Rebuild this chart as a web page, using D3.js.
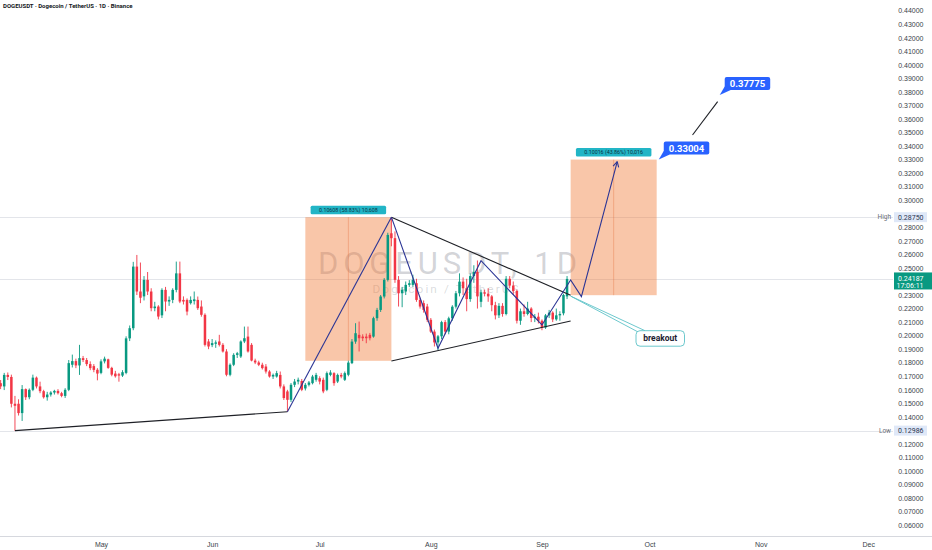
<!DOCTYPE html>
<html lang="en">
<head>
  <meta charset="UTF-8">
  <title>DOGEUSDT 1D</title>
  <script src="https://d3js.org/d3.v7.min.js"></script>
  <style>
    body { margin: 0; background: #fff; }
    svg { display: block; font-family: Roboto, "Noto Sans", sans-serif; }
    .axis text { font-size: 7px; fill: #3b3f4a; }
  </style>
</head>
<body>
  <svg width="932" height="550"></svg>

  <script>
    // daily candles, first one is 2025-04-03
    const firstDay = "2025-04-03";
    const opens = [
      .1649,.1625,.1710,.1695,.1497,.1497,.1428,.1605,.1545,.1600,
      .1690,.1625,.1590,.1545,.1565,.1580,.1592,.1575,.1555,.1600,
      .1785,.1812,.1780,.1834,.1820,.1790,.1775,.1748,.1725,.1810,
      .1825,.1762,.1720,.1715,.1705,.1725,.1980,.2055,.2510,.2326,
      .2290,.2412,.2326,.2203,.2215,.2150,.2338,.2252,.2264,.2338,
      .2460,.2264,.2264,.2240,.2255,.2264,.2215,.2154,.1957,.1930,
      .1940,.1957,.1932,.1883,.1711,.1785,.1858,.1846,.1957,.1993,
      .1932,.1816,.1802,.1785,.1772,.1735,.1698,.1698,.1710,.1625,
      .1588,.1526,.1637,.1661,.1665,.1610,.1637,.1649,.1674,.1686,
      .1674,.1600,.1710,.1723,.1661,.1710,.1674,.1711,.1797,.1956,
      .2006,.1993,.1993,.2006,.1993,.2129,.2190,.2289,.2412,.2756,
      .2720,.2412,.2313,.2326,.2375,.2375,.2387,.2264,.2240,.2215,
      .2117,.2030,.1950,.1995,.2100,.2030,.2128,.2214,.2313,.2399,
      .2350,.2270,.2440,.2470,.2250,.2320,.2310,.2290,.2225,.2150,
      .2220,.2160,.2420,.2370,.2330,.2110,.2180,.2160,.2200,.2130,
      .2140,.2110,.2060,.2150,.2170,.2120,.2150,.2165,.2290
    ];
    const highs = [
      .1672,.1725,.1728,.1712,.1555,.1530,.1635,.1610,.1610,.1712,
      .1698,.1660,.1600,.1585,.1590,.1600,.1605,.1585,.1612,.1820,
      .1860,.1830,.1932,.1850,.1835,.1810,.1790,.1760,.1825,.1845,
      .1830,.1770,.1740,.1725,.1745,.1995,.2075,.2545,.2596,.2540,
      .2440,.2470,.2350,.2250,.2225,.2350,.2360,.2290,.2350,.2547,
      .2547,.2290,.2275,.2290,.2326,.2289,.2260,.2165,.1975,.1975,
      .1965,.2006,.1945,.1900,.1795,.1870,.1880,.1965,.2067,.2067,
      .1945,.1830,.1815,.1800,.1790,.1745,.1720,.1740,.1735,.1640,
      .1600,.1650,.1680,.1690,.1680,.1650,.1665,.1710,.1725,.1700,
      .1690,.1735,.1745,.1730,.1720,.1725,.1735,.1815,.1975,.2092,
      .2104,.2010,.2015,.2020,.2140,.2205,.2300,.2425,.2760,.2875,
      .2770,.2440,.2360,.2400,.2410,.2450,.2420,.2280,.2260,.2235,
      .2130,.2045,.2005,.2110,.2115,.2140,.2225,.2330,.2460,.2430,
      .2420,.2460,.2520,.2555,.2340,.2340,.2350,.2300,.2250,.2240,
      .2240,.2440,.2440,.2400,.2340,.2200,.2230,.2250,.2210,.2160,
      .2170,.2120,.2160,.2190,.2180,.2200,.2180,.2310,.2440
    ];
    const lows = [
      .1605,.1598,.1672,.1470,.1297,.1410,.1370,.1525,.1530,.1590,
      .1610,.1575,.1535,.1520,.1550,.1565,.1565,.1545,.1540,.1590,
      .1765,.1760,.1710,.1805,.1775,.1745,.1730,.1670,.1715,.1795,
      .1755,.1700,.1690,.1660,.1695,.1715,.1960,.2040,.2300,.2240,
      .2260,.2300,.2180,.2180,.2120,.2130,.2180,.2220,.2240,.2320,
      .2240,.2230,.2150,.2230,.2230,.2190,.2140,.1920,.1900,.1915,
      .1910,.1920,.1875,.1700,.1700,.1775,.1835,.1835,.1945,.1875,
      .1810,.1790,.1775,.1750,.1720,.1690,.1680,.1690,.1610,.1525,
      .1438,.1510,.1620,.1640,.1590,.1595,.1625,.1640,.1660,.1640,
      .1575,.1590,.1700,.1630,.1650,.1685,.1665,.1700,.1790,.1940,
      .1883,.1960,.1944,.1965,.1985,.2110,.2175,.2275,.2400,.2660,
      .2390,.2215,.2210,.2300,.2360,.2360,.2250,.2200,.2170,.2100,
      .2020,.1920,.1894,.1975,.2010,.2010,.2110,.2200,.2290,.2300,
      .2180,.2250,.2390,.2200,.2210,.2290,.2250,.2180,.2120,.2130,
      .2140,.2150,.2350,.2300,.2090,.2080,.2140,.2150,.2100,.2100,
      .2090,.2040,.2050,.2130,.2100,.2110,.2110,.2150,.2270
    ];
    const closes = [
      .1625,.1710,.1695,.1497,.1482,.1428,.1605,.1545,.1600,.1690,
      .1625,.1590,.1545,.1565,.1580,.1592,.1575,.1555,.1600,.1797,
      .1812,.1780,.1834,.1820,.1790,.1760,.1747,.1720,.1810,.1830,
      .1762,.1712,.1700,.1705,.1730,.1980,.2055,.2510,.2326,.2280,
      .2412,.2326,.2203,.2215,.2141,.2338,.2252,.2264,.2338,.2460,
      .2252,.2252,.2178,.2264,.2268,.2203,.2154,.1932,.1920,.1945,
      .1950,.1932,.1883,.1711,.1785,.1858,.1870,.1957,.1981,.1883,
      .1816,.1802,.1785,.1760,.1735,.1698,.1710,.1723,.1625,.1539,
      .1526,.1637,.1661,.1674,.1600,.1637,.1654,.1698,.1710,.1661,
      .1588,.1723,.1728,.1649,.1710,.1698,.1723,.1801,.1956,.2018,
      .1981,.1981,.1981,.1981,.2129,.2190,.2289,.2412,.2744,.2720,
      .2412,.2313,.2338,.2375,.2387,.2412,.2264,.2215,.2190,.2117,
      .2030,.1950,.1995,.2100,.2030,.2128,.2214,.2313,.2399,.2350,
      .2270,.2440,.2470,.2290,.2320,.2310,.2290,.2225,.2150,.2220,
      .2160,.2420,.2370,.2330,.2110,.2180,.2160,.2200,.2130,.2140,
      .2110,.2060,.2150,.2170,.2120,.2150,.2160,.2300,.2419
    ];

    const priceTicks = [0.06,0.07,0.08,0.09,0.10,0.11,0.12,0.13,0.14,0.15,0.16,0.17,0.18,0.19,
      0.20,0.21,0.22,0.23,0.24,0.25,0.26,0.27,0.28,0.29,0.30,0.31,0.32,0.33,0.34,0.35,0.36,
      0.37,0.38,0.39,0.40,0.41,0.42,0.43,0.44];
    const monthTicks = ["2025-05-01","2025-06-01","2025-07-01","2025-08-01","2025-09-01",
      "2025-10-01","2025-11-01","2025-12-01"];

    const highPrice = 0.2875, lowPrice = 0.12986;
    const lastPrice = 0.24187, countdown = "17:06:11";

    // drawings
    const baseLine = [["2025-04-07", 0.12986], ["2025-06-22", 0.1438]];
    const impulse = [["2025-06-22", 0.1438], ["2025-07-21", 0.2875]];
    const triUpper = [["2025-07-21", 0.2875], ["2025-09-09", 0.2299]];
    const triLower = [["2025-07-21", 0.1813], ["2025-09-09", 0.2108]];
    const zigzag = [["2025-07-21", 0.2875], ["2025-08-03", 0.1907], ["2025-08-15", 0.2554],
      ["2025-09-01", 0.2079], ["2025-09-09", 0.2411], ["2025-09-12", 0.2288], ["2025-09-22", 0.3285]];
    const targetLine = [["2025-10-13", 0.3482], ["2025-10-20", 0.3728]];
    const rangeBoxes = [
      { from: "2025-06-27", to: "2025-07-21", hi: 0.2875, lo: 0.18142, text: "0.10608 (58.83%) 10,608" },
      { from: "2025-09-09", to: "2025-10-03", hi: 0.33004, lo: 0.22988, text: "0.10016 (43.86%) 10,016" }
    ];
    const priceNotes = [
      { date: "2025-10-04", price: 0.33004, text: "0.33004" },
      { date: "2025-10-21", price: 0.37775, text: "0.37775" }
    ];
    const breakoutNote = { date: "2025-09-09", price: 0.2292, text: "breakout" };

    const green = "#089981", red = "#f23645", navy = "#2b3595";
    const chartRight = 893;

    const svg = d3.select("svg");
    const x = d3.scaleUtc()
      .domain([new Date("2025-05-01"), new Date("2025-12-01")])
      .range([101, 868.2]);
    const y = d3.scaleLinear().domain([0.06, 0.44]).range([525.2, 10.7]);
    const pt = d => [x(new Date(d[0])), y(d[1])];

    const candles = closes.map((c, i) => ({
      date: d3.utcDay.offset(new Date(firstDay), i),
      o: opens[i], h: highs[i], l: lows[i], c: c
    }));

    // watermark
    svg.append("text")
      .attr("x", 447.5).attr("y", 274)
      .attr("text-anchor", "middle")
      .attr("font-size", 31)
      .attr("textLength", 259)
      .attr("fill", "rgba(120,123,134,0.33)")
      .text("DOGEUSDT, 1D");
    svg.append("text")
      .attr("x", 445.5).attr("y", 292.5)
      .attr("text-anchor", "middle")
      .attr("font-size", 11.8)
      .attr("textLength", 146)
      .attr("fill", "rgba(120,123,134,0.28)")
      .text("Dogecoin / TetherUS");

    // high / low / last lines
    [highPrice, lastPrice, lowPrice].forEach(p => {
      svg.append("line")
        .attr("x1", 0).attr("x2", chartRight)
        .attr("y1", Math.round(y(p)) + 0.5).attr("y2", Math.round(y(p)) + 0.5)
        .attr("stroke", "#e3e5ea").attr("stroke-width", 1);
    });

    // price range boxes
    rangeBoxes.forEach(b => {
      const x0 = x(new Date(b.from)), x1 = x(new Date(b.to));
      svg.append("rect")
        .attr("x", x0).attr("y", y(b.hi))
        .attr("width", x1 - x0).attr("height", y(b.lo) - y(b.hi))
        .attr("fill", "rgba(240,120,50,0.42)");
      svg.append("line")
        .attr("x1", (x0 + x1) / 2).attr("x2", (x0 + x1) / 2)
        .attr("y1", y(b.hi)).attr("y2", y(b.lo))
        .attr("stroke", "rgba(225,110,60,0.45)").attr("stroke-width", 0.8);
      const lw = 75.5, lh = 8.5;
      svg.append("rect")
        .attr("x", (x0 + x1) / 2 - lw / 2).attr("y", y(b.hi) - lh - 3)
        .attr("width", lw).attr("height", lh).attr("rx", 1.5)
        .attr("fill", "#22b5c6");
      svg.append("text")
        .attr("x", (x0 + x1) / 2).attr("y", y(b.hi) - 3 - lh / 2)
        .attr("dy", "0.35em").attr("text-anchor", "middle")
        .attr("font-size", 5.3).attr("fill", "#0d3444")
        .text(b.text);
    });

    // candles
    const cw = 2.5;
    const g = svg.append("g");
    g.selectAll(".wick").data(candles).enter().append("line")
      .attr("x1", d => x(d.date)).attr("x2", d => x(d.date))
      .attr("y1", d => y(d.h)).attr("y2", d => y(d.l))
      .attr("stroke", d => d.c >= d.o ? green : red)
      .attr("stroke-width", 0.9);
    g.selectAll(".body").data(candles).enter().append("rect")
      .attr("x", d => x(d.date) - cw / 2)
      .attr("y", d => y(Math.max(d.o, d.c)))
      .attr("width", cw)
      .attr("height", d => Math.max(0.9, Math.abs(y(d.o) - y(d.c))))
      .attr("fill", d => d.c >= d.o ? green : red);

    // trend lines
    const line = d3.line().x(d => pt(d)[0]).y(d => pt(d)[1]);
    [baseLine, triUpper, triLower, targetLine].forEach(l => {
      svg.append("path").attr("d", line(l))
        .attr("fill", "none").attr("stroke", "#1e2026").attr("stroke-width", 1.1);
    });
    [impulse, zigzag].forEach(l => {
      svg.append("path").attr("d", line(l))
        .attr("fill", "none").attr("stroke", navy).attr("stroke-width", 1.1);
    });
    // arrow head at end of zigzag
    const tip = pt(zigzag[zigzag.length - 1]);
    const prev = pt(zigzag[zigzag.length - 2]);
    const ang = Math.atan2(tip[1] - prev[1], tip[0] - prev[0]);
    [-0.5, 0.5].forEach(a => {
      svg.append("line")
        .attr("x1", tip[0]).attr("y1", tip[1])
        .attr("x2", tip[0] - 6 * Math.cos(ang + a))
        .attr("y2", tip[1] - 6 * Math.sin(ang + a))
        .attr("stroke", navy).attr("stroke-width", 1.1);
    });

    // breakout callout
    const bp = pt([breakoutNote.date, breakoutNote.price]);
    const bx = 636, by = 330.7, bw = 48.5, bh = 15.5;
    svg.append("path")
      .attr("d", `M${bx + 1.5},${by + 1} L${bp[0]},${bp[1]} L${bx + 9},${by}`)
      .attr("fill", "none").attr("stroke", "#5cc2c7").attr("stroke-width", 0.9);
    svg.append("rect")
      .attr("x", bx).attr("y", by).attr("width", bw).attr("height", bh).attr("rx", 4)
      .attr("fill", "#fff").attr("stroke", "#5cc2c7").attr("stroke-width", 0.9);
    svg.append("text")
      .attr("x", bx + bw / 2).attr("y", by + bh / 2).attr("dy", "0.35em")
      .attr("text-anchor", "middle").attr("font-size", 8.5).attr("font-weight", 700)
      .attr("fill", "#1c2030").text(breakoutNote.text);

    // price callouts
    priceNotes.forEach(n => {
      const p = pt([n.date, n.price]);
      const tx = p[0] - 1.5, ty = p[1];
      const lx = tx + 5, lb = ty - 5, w = 45.5, h = 13;
      svg.append("path")
        .attr("d", `M${tx},${ty} L${lx},${lb - 3.5} L${lx + 6},${lb} Z`)
        .attr("fill", "#2962ff");
      svg.append("rect")
        .attr("x", lx).attr("y", lb - h).attr("width", w).attr("height", h).attr("rx", 2)
        .attr("fill", "#2962ff");
      svg.append("text")
        .attr("x", lx + w / 2).attr("y", lb - h / 2).attr("dy", "0.36em")
        .attr("text-anchor", "middle").attr("font-size", 9.5).attr("font-weight", 700)
        .attr("fill", "#fff").text(n.text);
    });

    // price axis; labels sitting under a price tag are hidden like in the app
    const tagged = [highPrice, lowPrice, lastPrice];
    const visibleTicks = priceTicks.filter(t =>
      tagged.every(p => Math.abs(y(t) - y(p)) > (p === lastPrice ? 9 : 7.5)));
    const yAxis = svg.append("g").attr("class", "axis")
      .attr("transform", "translate(923.5,0)")
      .call(d3.axisRight(y).tickValues(visibleTicks).tickFormat(d3.format(".5f"))
        .tickSize(0).tickPadding(0));
    yAxis.select(".domain").remove();
    yAxis.selectAll("text").attr("text-anchor", "end").attr("font-size", 7);

    // high / low tags
    [["High", highPrice], ["Low", lowPrice]].forEach(([lab, p]) => {
      svg.append("rect")
        .attr("x", 894).attr("y", y(p) - 5).attr("width", 33).attr("height", 10)
        .attr("fill", "#dfe8f8");
      svg.append("text")
        .attr("x", 923.5).attr("y", y(p)).attr("dy", "0.35em")
        .attr("text-anchor", "end").attr("font-size", 7).attr("fill", "#2a3550")
        .text(d3.format(".5f")(p));
      svg.append("text")
        .attr("x", 891).attr("y", y(p)).attr("dy", "0.35em")
        .attr("text-anchor", "end").attr("font-size", 6.5).attr("fill", "#6a6d78")
        .text(lab);
    });

    // last price tag
    const ly = y(lastPrice);
    svg.append("rect")
      .attr("x", 894).attr("y", ly - 6.5).attr("width", 38).attr("height", 17)
      .attr("fill", green);
    svg.append("text")
      .attr("x", 923.5).attr("y", ly - 0.5).attr("dy", "0.35em")
      .attr("text-anchor", "end").attr("font-size", 7).attr("fill", "#fff")
      .text(d3.format(".5f")(lastPrice));
    svg.append("text")
      .attr("x", 923.5).attr("y", ly + 6.5).attr("dy", "0.35em")
      .attr("text-anchor", "end").attr("font-size", 7).attr("fill", "#fff")
      .text(countdown);

    // time axis
    svg.append("line")
      .attr("x1", 0).attr("x2", 932).attr("y1", 536.5).attr("y2", 536.5)
      .attr("stroke", "#d6d8de").attr("stroke-width", 1);
    const xAxis = svg.append("g").attr("class", "axis")
      .attr("transform", "translate(0,538)")
      .call(d3.axisBottom(x).tickValues(monthTicks.map(d => new Date(d)))
        .tickFormat(d3.utcFormat("%b")).tickSize(0).tickPadding(4));
    xAxis.select(".domain").remove();
    xAxis.selectAll("text").attr("font-size", 7).attr("fill", "#131722");

    // title
    svg.append("text")
      .attr("x", 3).attr("y", 6).attr("dy", "0.35em")
      .attr("font-size", 6).attr("font-weight", 700).attr("fill", "#131722")
      .text("DOGEUSDT · Dogecoin / TetherUS · 1D · Binance");
  </script>
</body>
</html>
